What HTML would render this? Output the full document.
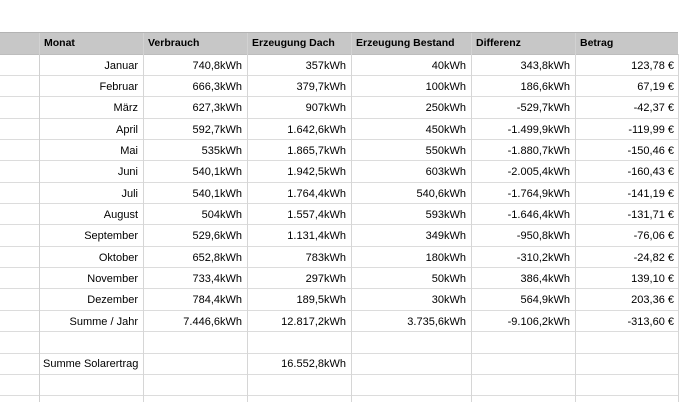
<!DOCTYPE html>
<html><head><meta charset="utf-8">
<style>
html,body{margin:0;padding:0;background:#fff;}
body{width:690px;height:402px;position:relative;overflow:hidden;font-family:"Liberation Sans",Arial,sans-serif;color:#000;}
.hdr{position:absolute;left:0;top:32px;width:678px;height:22px;background:#c7c7c7;border-top:1px solid #b3b3b3;box-sizing:border-box;}
.hl{position:absolute;left:0;width:678px;height:1px;background:#dcdcdc;}
.vl{position:absolute;top:54px;width:1px;height:348px;background:#d6d6d6;}
.hv{position:absolute;top:33px;width:1px;height:21px;background:#d2d2d2;}
.ht{position:absolute;top:33px;height:21px;line-height:21px;font-weight:bold;font-size:10.5px;padding-left:5px;box-sizing:border-box;}
.row{position:absolute;left:0;width:678px;height:21.35px;font-size:11px;}
.row span{position:absolute;top:0;height:21.35px;line-height:22px;text-align:right;padding-right:5px;box-sizing:border-box;white-space:nowrap;}
.row .a{left:39px;width:104px;}
.row .b{left:143px;width:104px;}
.row .c{left:247px;width:104px;}
.row .d{left:351px;width:120px;}
.row .e{left:471px;width:104px;}
.row .f{left:575px;width:103px;padding-right:4px;}
.row .l{text-align:left;padding-left:4px;padding-right:0;}
</style></head><body>
<div class="hdr"></div>
<div class="hl" style="top:54px;background:#bdbdbd"></div>
<div class="hv" style="left:39px"></div>
<div class="hv" style="left:143px"></div>
<div class="hv" style="left:247px"></div>
<div class="hv" style="left:351px"></div>
<div class="hv" style="left:471px"></div>
<div class="hv" style="left:575px"></div>
<div class="ht" style="left:39px">Monat</div>
<div class="ht" style="left:143px">Verbrauch</div>
<div class="ht" style="left:247px">Erzeugung Dach</div>
<div class="ht" style="left:351px">Erzeugung Bestand</div>
<div class="ht" style="left:471px">Differenz</div>
<div class="ht" style="left:575px">Betrag</div>

<div class="hl" style="top:75px"></div>
<div class="hl" style="top:96px"></div>
<div class="hl" style="top:118px"></div>
<div class="hl" style="top:139px"></div>
<div class="hl" style="top:160px"></div>
<div class="hl" style="top:182px"></div>
<div class="hl" style="top:203px"></div>
<div class="hl" style="top:224px"></div>
<div class="hl" style="top:246px"></div>
<div class="hl" style="top:267px"></div>
<div class="hl" style="top:288px"></div>
<div class="hl" style="top:310px"></div>
<div class="hl" style="top:331px"></div>
<div class="hl" style="top:353px"></div>
<div class="hl" style="top:374px"></div>
<div class="hl" style="top:395px"></div>

<div class="vl" style="left:39px;background:#d0d0d0"></div>
<div class="vl" style="left:143px"></div>
<div class="vl" style="left:247px"></div>
<div class="vl" style="left:351px"></div>
<div class="vl" style="left:471px"></div>
<div class="vl" style="left:575px"></div>
<div class="vl" style="left:678px"></div>

<div class="row" style="top:54.5px"><span class="a">Januar</span><span class="b">740,8kWh</span><span class="c">357kWh</span><span class="d">40kWh</span><span class="e">343,8kWh</span><span class="f">123,78 €</span></div>
<div class="row" style="top:75.85px"><span class="a">Februar</span><span class="b">666,3kWh</span><span class="c">379,7kWh</span><span class="d">100kWh</span><span class="e">186,6kWh</span><span class="f">67,19 €</span></div>
<div class="row" style="top:97.2px"><span class="a">März</span><span class="b">627,3kWh</span><span class="c">907kWh</span><span class="d">250kWh</span><span class="e">-529,7kWh</span><span class="f">-42,37 €</span></div>
<div class="row" style="top:118.55px"><span class="a">April</span><span class="b">592,7kWh</span><span class="c">1.642,6kWh</span><span class="d">450kWh</span><span class="e">-1.499,9kWh</span><span class="f">-119,99 €</span></div>
<div class="row" style="top:139.9px"><span class="a">Mai</span><span class="b">535kWh</span><span class="c">1.865,7kWh</span><span class="d">550kWh</span><span class="e">-1.880,7kWh</span><span class="f">-150,46 €</span></div>
<div class="row" style="top:161.25px"><span class="a">Juni</span><span class="b">540,1kWh</span><span class="c">1.942,5kWh</span><span class="d">603kWh</span><span class="e">-2.005,4kWh</span><span class="f">-160,43 €</span></div>
<div class="row" style="top:182.6px"><span class="a">Juli</span><span class="b">540,1kWh</span><span class="c">1.764,4kWh</span><span class="d">540,6kWh</span><span class="e">-1.764,9kWh</span><span class="f">-141,19 €</span></div>
<div class="row" style="top:203.95px"><span class="a">August</span><span class="b">504kWh</span><span class="c">1.557,4kWh</span><span class="d">593kWh</span><span class="e">-1.646,4kWh</span><span class="f">-131,71 €</span></div>
<div class="row" style="top:225.3px"><span class="a">September</span><span class="b">529,6kWh</span><span class="c">1.131,4kWh</span><span class="d">349kWh</span><span class="e">-950,8kWh</span><span class="f">-76,06 €</span></div>
<div class="row" style="top:246.65px"><span class="a">Oktober</span><span class="b">652,8kWh</span><span class="c">783kWh</span><span class="d">180kWh</span><span class="e">-310,2kWh</span><span class="f">-24,82 €</span></div>
<div class="row" style="top:268px"><span class="a">November</span><span class="b">733,4kWh</span><span class="c">297kWh</span><span class="d">50kWh</span><span class="e">386,4kWh</span><span class="f">139,10 €</span></div>
<div class="row" style="top:289.35px"><span class="a">Dezember</span><span class="b">784,4kWh</span><span class="c">189,5kWh</span><span class="d">30kWh</span><span class="e">564,9kWh</span><span class="f">203,36 €</span></div>
<div class="row" style="top:310.7px"><span class="a">Summe / Jahr</span><span class="b">7.446,6kWh</span><span class="c">12.817,2kWh</span><span class="d">3.735,6kWh</span><span class="e">-9.106,2kWh</span><span class="f">-313,60 €</span></div>
<div class="row" style="top:353.4px"><span class="a l">Summe Solarertrag</span><span class="c">16.552,8kWh</span></div>
</body></html>
